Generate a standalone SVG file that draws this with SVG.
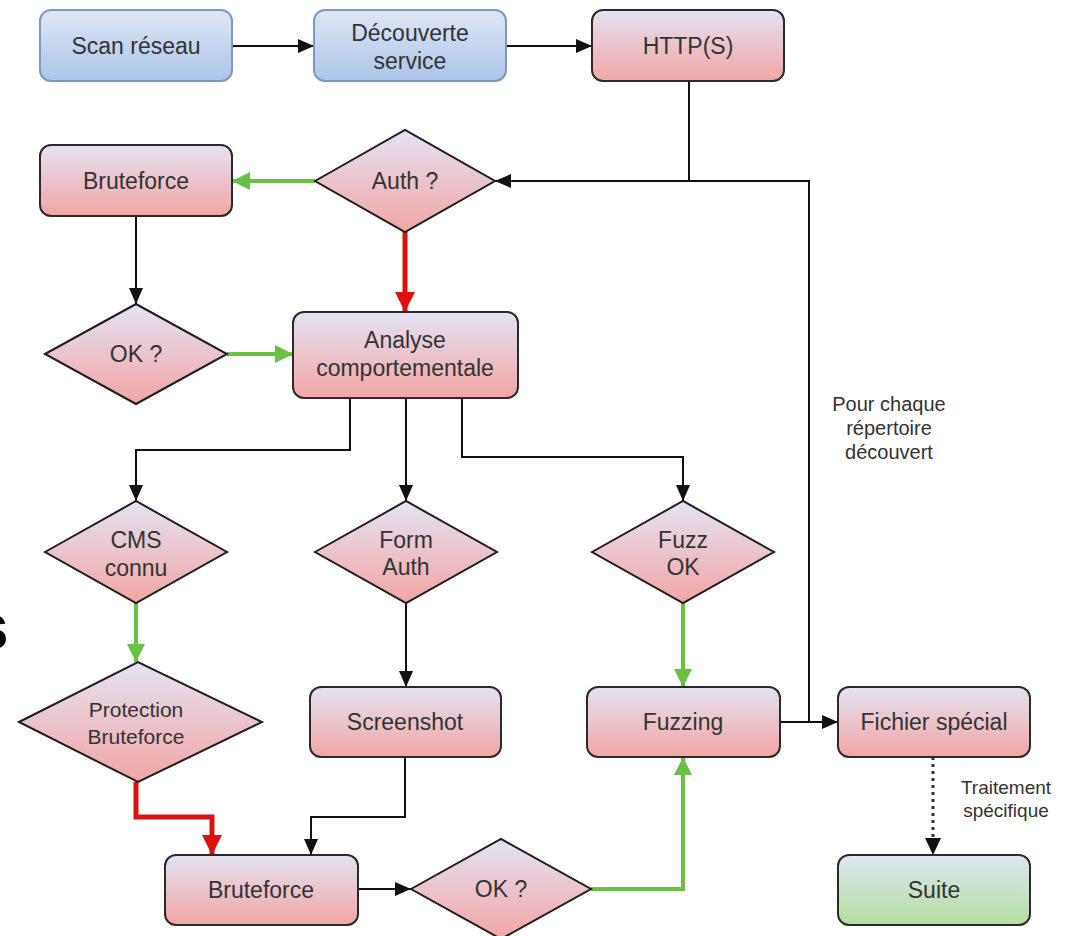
<svg xmlns="http://www.w3.org/2000/svg" width="1065" height="936" viewBox="0 0 1065 936">
<defs>
<linearGradient id="gRed" x1="0" y1="0" x2="0" y2="1">
<stop offset="0" stop-color="#e4e3f3"/>
<stop offset="1" stop-color="#f2a5a4"/>
</linearGradient>
<linearGradient id="gBlue" x1="0" y1="0" x2="0" y2="1">
<stop offset="0" stop-color="#dfe7f6"/>
<stop offset="1" stop-color="#abc4e8"/>
</linearGradient>
<linearGradient id="gGreen" x1="0" y1="0" x2="0" y2="1">
<stop offset="0" stop-color="#dde6f3"/>
<stop offset="1" stop-color="#b3dea0"/>
</linearGradient>
<marker id="aBlack" markerUnits="userSpaceOnUse" markerWidth="18" markerHeight="18" refX="17" refY="9" orient="auto">
<path d="M1,2 L17,9 L1,16 z" fill="#111"/>
</marker>
<marker id="aGreen" markerUnits="userSpaceOnUse" markerWidth="20" markerHeight="20" refX="19" refY="10" orient="auto">
<path d="M1,1 L19,10 L1,19 z" fill="#6abf45"/>
</marker>
<marker id="aRed" markerUnits="userSpaceOnUse" markerWidth="22" markerHeight="22" refX="21" refY="11" orient="auto">
<path d="M1,1 L21,11 L1,21 z" fill="#dd1010"/>
</marker>
</defs>
<style>
.box{fill:url(#gRed);stroke:#2a2a2a;stroke-width:2}
.blue{fill:url(#gBlue);stroke:#7d97c0;stroke-width:2}
.green{fill:url(#gGreen);stroke:#2a2a2a;stroke-width:2}
.dia{fill:url(#gRed);stroke:#1e1e1e;stroke-width:2;stroke-linejoin:miter}
.t{font-family:"Liberation Sans",Arial,sans-serif;font-size:23px;fill:#333;text-anchor:middle}
.ts{font-family:"Liberation Sans",Arial,sans-serif;font-size:21px;fill:#333;text-anchor:middle}
.lbl{font-family:"Liberation Sans",Arial,sans-serif;font-size:20px;fill:#333;text-anchor:middle}
.cb{fill:none;stroke:#111;stroke-width:2}
.cg{fill:none;stroke:#6abf45;stroke-width:4}
.cr{fill:none;stroke:#dd1010;stroke-width:5}
.cd{fill:none;stroke:#333;stroke-width:3;stroke-dasharray:3 4}
</style>
<rect width="1065" height="936" fill="#fff"/>

<g id="connectors">
<path class="cb" d="M232,46 L314,46" marker-end="url(#aBlack)"/>
<path class="cb" d="M506,46 L592,46" marker-end="url(#aBlack)"/>
<path class="cb" d="M689,81 L689,181"/>
<path class="cb" d="M809,722 L809,181 L495,181" marker-end="url(#aBlack)"/>
<path class="cb" d="M780,722 L838,722" marker-end="url(#aBlack)"/>
<path class="cg" d="M315,181 L232,181" marker-end="url(#aGreen)"/>
<path class="cr" d="M405,232 L405,312" marker-end="url(#aRed)"/>
<path class="cb" d="M136,216 L136,304" marker-end="url(#aBlack)"/>
<path class="cg" d="M227,354 L293,354" marker-end="url(#aGreen)"/>
<path class="cb" d="M350,398 L350,450 L136,450 L136,501" marker-end="url(#aBlack)"/>
<path class="cb" d="M406,398 L406,501" marker-end="url(#aBlack)"/>
<path class="cb" d="M462,398 L462,457 L683,457 L683,501" marker-end="url(#aBlack)"/>
<path class="cg" d="M136,603 L136,662" marker-end="url(#aGreen)"/>
<path class="cb" d="M406,603 L406,687" marker-end="url(#aBlack)"/>
<path class="cg" d="M683,603 L683,687" marker-end="url(#aGreen)"/>
<path class="cr" d="M136,782 L136,817 L212,817 L212,855" marker-end="url(#aRed)"/>
<path class="cb" d="M405,757 L405,817 L311,817 L311,855" marker-end="url(#aBlack)"/>
<path class="cb" d="M358,889 L411,889" marker-end="url(#aBlack)"/>
<path class="cg" d="M591,889 L683,889 L683,757" marker-end="url(#aGreen)"/>
<path class="cd" d="M933,757 L933,838"/>
<path d="M925,838 L941,838 L933,855 z" fill="#111"/>
</g>

<g id="scan"><rect class="blue" x="40" y="10" width="192" height="71" rx="11"/><text class="t" x="136" y="54">Scan réseau</text></g>
<g id="decouverte"><rect class="blue" x="314" y="10" width="192" height="71" rx="11"/><text class="t" x="410" y="41">Découverte</text><text class="t" x="410" y="69">service</text></g>
<g id="http"><rect class="box" x="592" y="10" width="192" height="71" rx="11"/><text class="t" x="688" y="54">HTTP(S)</text></g>
<g id="bruteforce1"><rect class="box" x="40" y="145" width="192" height="71" rx="11"/><text class="t" x="136" y="189">Bruteforce</text></g>
<g id="auth"><polygon class="dia" points="315,181 405,130 495,181 405,232"/><text class="t" x="405" y="189">Auth ?</text></g>
<g id="ok1"><polygon class="dia" points="45,354 136,304 227,354 136,404"/><text class="t" x="136" y="362">OK ?</text></g>
<g id="analyse"><rect class="box" x="293" y="312" width="225" height="86" rx="11"/><text class="t" x="405" y="348">Analyse</text><text class="t" x="405" y="376">comportementale</text></g>
<g id="cms"><polygon class="dia" points="45,552 136,501 227,552 136,603"/><text class="t" x="136" y="548">CMS</text><text class="t" x="136" y="576">connu</text></g>
<g id="formauth"><polygon class="dia" points="315,552 406,501 497,552 406,603"/><text class="t" x="406" y="548">Form</text><text class="t" x="406" y="575">Auth</text></g>
<g id="fuzzok"><polygon class="dia" points="592,552 683,501 774,552 683,603"/><text class="t" x="683" y="548">Fuzz</text><text class="t" x="683" y="575">OK</text></g>
<g id="protection"><polygon class="dia" points="19,722 138,662 262,722 138,782"/><text class="ts" x="136" y="717">Protection</text><text class="ts" x="136" y="744">Bruteforce</text></g>
<g id="screenshot"><rect class="box" x="310" y="687" width="191" height="70" rx="11"/><text class="t" x="405" y="730">Screenshot</text></g>
<g id="fuzzing"><rect class="box" x="587" y="687" width="193" height="70" rx="11"/><text class="t" x="683" y="730">Fuzzing</text></g>
<g id="fichier"><rect class="box" x="838" y="687" width="192" height="70" rx="11"/><text class="t" x="934" y="730">Fichier spécial</text></g>
<g id="bruteforce2"><rect class="box" x="165" y="855" width="193" height="70" rx="11"/><text class="t" x="261" y="898">Bruteforce</text></g>
<g id="ok2"><polygon class="dia" points="411,889 501,839 591,889 501,939"/><text class="t" x="501" y="897">OK ?</text></g>
<g id="suite"><rect class="green" x="838" y="855" width="192" height="70" rx="11"/><text class="t" x="934" y="898">Suite</text></g>

<g id="labels">
<text class="lbl" x="889" y="411">Pour chaque</text>
<text class="lbl" x="889" y="435">répertoire</text>
<text class="lbl" x="889" y="459">découvert</text>
<text class="lbl" x="1006" y="794" style="font-size:19px">Traitement</text>
<text class="lbl" x="1006" y="817" style="font-size:19px">spécifique</text>
<text x="-27" y="649" style="font-family:'Liberation Sans',Arial,sans-serif;font-size:64px;font-weight:bold;fill:#000">s</text>
</g>
</svg>
